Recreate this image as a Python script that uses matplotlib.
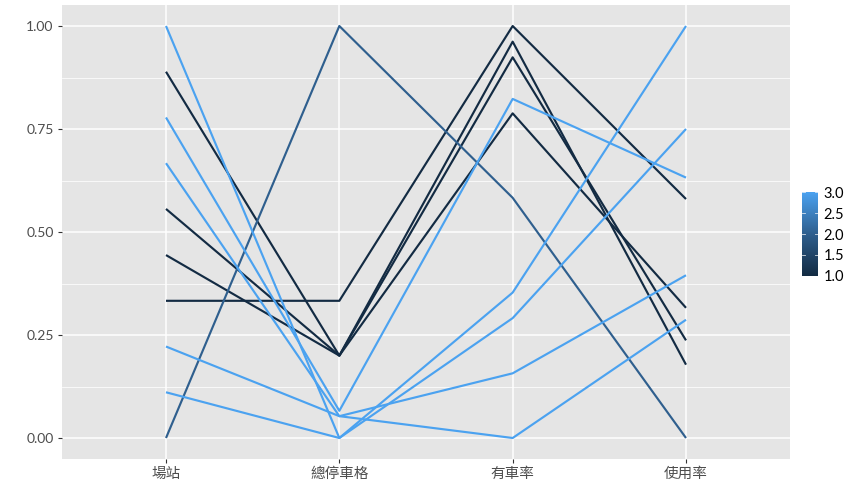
import matplotlib
matplotlib.use("Agg")
import matplotlib.pyplot as plt
import numpy as np
from matplotlib.colors import LinearSegmentedColormap, Normalize

# ---- data ----
variables = ['場站', '總停車格', '有車率', '使用率']
station = [0.889, 0.556, 0.444, 0.333, 0.0, 1.0, 0.778, 0.667, 0.222, 0.111]
total_spaces = [0.2, 0.2, 0.2, 0.333, 1.0, 0.0, 0.066, 0.053, 0.053, 0.0]
occupancy = [0.962, 0.924, 0.788, 1.0, 0.583, 0.353, 0.823, 0.157, 0.0, 0.291]
usage = [0.178, 0.237, 0.316, 0.58, 0.0, 1.0, 0.632, 0.395, 0.287, 0.75]
cluster = [1, 1, 1, 1, 2, 3, 3, 3, 3, 3]
y_ticks = [0.0, 0.25, 0.5, 0.75, 1.0]
y_labels = ['0.00', '0.25', '0.50', '0.75', '1.00']
cb_ticks = [1.0, 1.5, 2.0, 2.5, 3.0]

cmap = LinearSegmentedColormap.from_list('gg', ['#132B43', '#2F5F8E', '#4BA2F0'])
norm = Normalize(1, 3)

num_font = ['Lato', 'DejaVu Sans']
cjk_font = ['Noto Sans CJK TC', 'DejaVu Sans']

fig = plt.figure(figsize=(8.64, 5.04), dpi=100)
ax = fig.add_axes([62 / 864, 1 - 458.6 / 504, (790 - 62) / 864, (458.6 - 5.4) / 504])
ax.set_facecolor('#E5E5E5')
for s in ax.spines.values():
    s.set_visible(False)

x = np.arange(len(variables))
data = np.array([station, total_spaces, occupancy, usage]).T
order = sorted(range(len(cluster)), key=lambda i: cluster[i])
for i in order:
    ax.plot(x, data[i], color=cmap(norm(cluster[i])), lw=1.55, solid_capstyle='butt', zorder=3)

ax.set_xlim(-0.6, len(variables) - 1 + 0.6)
ax.set_ylim(-0.05, 1.05)
ax.set_yticks(y_ticks)
ax.set_yticklabels(y_labels, fontfamily=num_font, fontsize=10, color='#4D4D4D')
ax.set_yticks([0.125, 0.375, 0.625, 0.875], minor=True)
ax.set_xticks(x)
ax.set_xticklabels(variables, fontfamily=cjk_font, fontsize=10.5, color='#4D4D4D')
ax.grid(True, which='major', color='white', lw=1.1, zorder=1)
ax.grid(True, which='minor', axis='y', color='white', lw=0.55, zorder=1)
ax.tick_params(which='major', length=3, width=0.8, color='#333333', pad=3)
ax.tick_params(which='minor', length=0)
ax.set_axisbelow(True)

# colorbar legend
cax = fig.add_axes([802 / 864, 1 - 277 / 504, 16 / 864, 86 / 504])
grad = np.linspace(1, 3, 300).reshape(-1, 1)
cax.imshow(grad, aspect='auto', cmap=cmap, norm=norm, origin='lower', extent=[0, 1, 1, 3])
cax.set_xlim(0, 1)
cax.set_ylim(0.97, 3.03)
for s in cax.spines.values():
    s.set_visible(False)
cax.set_xticks([])
cax.yaxis.tick_right()
cax.set_yticks(cb_ticks)
cax.set_yticklabels(['%.1f' % t for t in cb_ticks], fontfamily=num_font, fontsize=10.5, color='black')
cax.tick_params(axis='y', length=0, pad=4)
for t in cb_ticks:
    cax.plot([0, 0.2], [t, t], color='white', lw=0.6, alpha=0.8)
    cax.plot([0.8, 1], [t, t], color='white', lw=0.6, alpha=0.8)

fig.savefig('out.png', dpi=100)
